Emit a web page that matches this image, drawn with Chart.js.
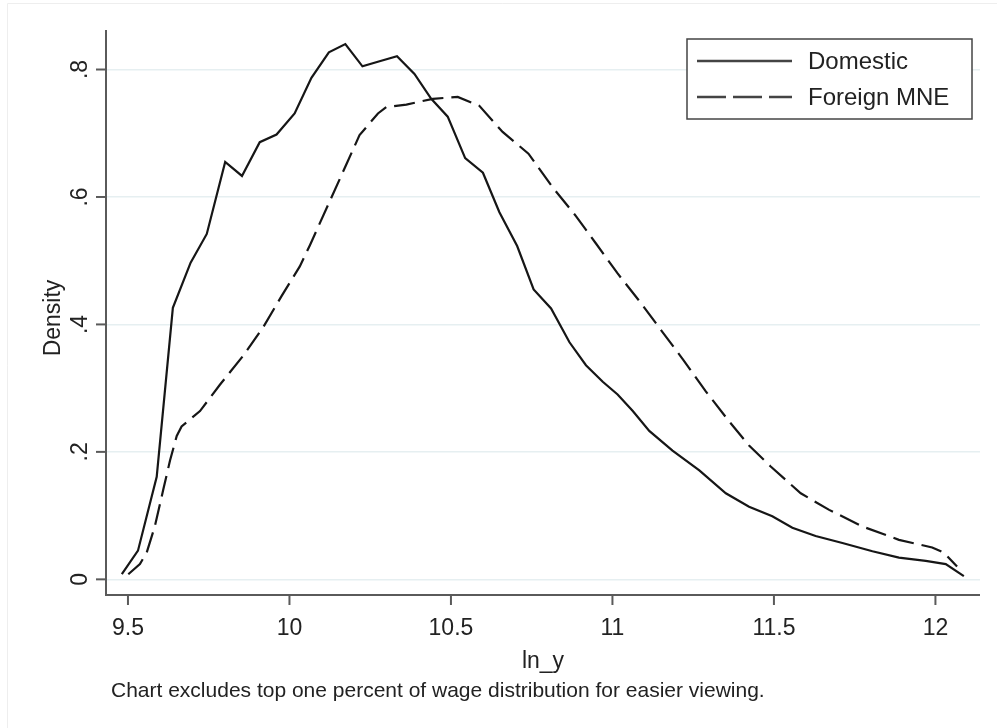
<!DOCTYPE html>
<html lang="en">
<head>
<meta charset="UTF-8">
<title>Kernel density of ln_y</title>
<script src="https://cdn.jsdelivr.net/npm/chart.js"></script>
<style>
  body { margin: 0; background: #fff; }
  canvas { display: block; }
</style>
</head>
<body>
<canvas id="densityChart" width="997" height="728"></canvas>
<script>
// values
const domX = [9.481, 9.531, 9.589, 9.639, 9.694, 9.744, 9.801, 9.853, 9.908, 9.960,
              10.016, 10.068, 10.122, 10.173, 10.226, 10.279, 10.333, 10.387, 10.439, 10.490,
              10.544, 10.599, 10.650, 10.705, 10.756, 10.810, 10.867, 10.918, 10.970, 11.016,
              11.063, 11.114, 11.186, 11.269, 11.351, 11.423, 11.495, 11.557, 11.629, 11.712,
              11.805, 11.887, 11.970, 12.032, 12.088];
const domY = [0.008, 0.045, 0.161, 0.426, 0.497, 0.542, 0.655, 0.633, 0.686, 0.698,
              0.731, 0.787, 0.827, 0.840, 0.805, 0.813, 0.821, 0.793, 0.754, 0.726,
              0.661, 0.638, 0.576, 0.523, 0.455, 0.425, 0.372, 0.336, 0.310, 0.290,
              0.264, 0.233, 0.202, 0.171, 0.135, 0.114, 0.099, 0.081, 0.068, 0.057,
              0.044, 0.034, 0.029, 0.024, 0.005];

const forX = [9.501, 9.537, 9.558, 9.583, 9.609, 9.630, 9.651, 9.666, 9.723, 9.784,
              9.857, 9.918, 9.975, 10.032, 10.063, 10.128, 10.176, 10.217, 10.274, 10.300,
              10.362, 10.444, 10.521, 10.588, 10.660, 10.740, 10.815, 10.887, 10.949, 11.016,
              11.083, 11.155, 11.217, 11.289, 11.361, 11.423, 11.490, 11.583, 11.671, 11.774,
              11.887, 11.990, 12.026, 12.067];
const forY = [0.008, 0.024, 0.042, 0.083, 0.140, 0.186, 0.225, 0.240, 0.264, 0.305,
              0.351, 0.395, 0.444, 0.491, 0.524, 0.597, 0.651, 0.697, 0.731, 0.741,
              0.745, 0.754, 0.757, 0.743, 0.702, 0.668, 0.615, 0.570, 0.527, 0.480,
              0.437, 0.388, 0.346, 0.295, 0.248, 0.210, 0.177, 0.135, 0.109, 0.083,
              0.062, 0.050, 0.042, 0.020];

const xTicks = [9.5, 10, 10.5, 11, 11.5, 12];
const xTickLabels = ["9.5", "10", "10.5", "11", "11.5", "12"];
const yTicks = [0, 0.2, 0.4, 0.6, 0.8];
const yTickLabels = ["0", ".2", ".4", ".6", ".8"];
const seriesNames = ["Domestic", "Foreign MNE"];
const xTitle = "ln_y";
const yTitle = "Density";
const note = "Chart excludes top one percent of wage distribution for easier viewing.";

const FONT = '"Liberation Sans", Arial, sans-serif';
const INK = "#161616";
const AXIS = "#5a5a5a";
const dash = [21, 8];

function pts(xs, ys) {
    return xs.map((x, i) => ({ x: x, y: ys[i] }));
}

// axes, ticks, titles, note and legend drawn by hand (Stata look)
const stataDecor = {
    id: "stataDecor",
    afterDraw(chart) {
        const ctx = chart.ctx;
        const a = chart.chartArea;
        const xs = chart.scales.x, ys = chart.scales.y;
        ctx.save();

        // faint outer frame
        ctx.strokeStyle = "#eeeeee";
        ctx.lineWidth = 1;
        ctx.beginPath();
        ctx.moveTo(7.5, 728); ctx.lineTo(7.5, 3.5); ctx.lineTo(997, 3.5);
        ctx.stroke();

        // axis lines
        ctx.strokeStyle = AXIS;
        ctx.lineWidth = 2;
        ctx.beginPath();
        ctx.moveTo(a.left, a.top); ctx.lineTo(a.left, a.bottom + 1);
        ctx.lineTo(a.right, a.bottom + 1);
        ctx.stroke();

        // x ticks + labels
        ctx.fillStyle = "#222";
        ctx.font = "23px " + FONT;
        ctx.textAlign = "center";
        ctx.textBaseline = "alphabetic";
        xTicks.forEach((v, i) => {
            const px = xs.getPixelForValue(v);
            ctx.beginPath();
            ctx.moveTo(px, a.bottom + 1); ctx.lineTo(px, a.bottom + 11);
            ctx.stroke();
            ctx.fillText(xTickLabels[i], px, a.bottom + 41);
        });

        // y ticks + rotated labels
        yTicks.forEach((v, i) => {
            const py = ys.getPixelForValue(v);
            ctx.beginPath();
            ctx.moveTo(a.left, py); ctx.lineTo(a.left - 10, py);
            ctx.stroke();
            ctx.save();
            ctx.translate(a.left - 19, py);
            ctx.rotate(-Math.PI / 2);
            ctx.textAlign = "center";
            ctx.fillText(yTickLabels[i], 0, 0);
            ctx.restore();
        });

        // axis titles
        ctx.font = "23px " + FONT;
        ctx.textAlign = "center";
        ctx.fillText(xTitle, (a.left + a.right) / 2, 668);
        ctx.save();
        ctx.translate(60, 318);
        ctx.rotate(-Math.PI / 2);
        ctx.fillText(yTitle, 0, 0);
        ctx.restore();

        // note
        ctx.font = "21px " + FONT;
        ctx.textAlign = "left";
        ctx.fillText(note, 111, 697);

        // legend
        ctx.fillStyle = "#fff";
        ctx.fillRect(687, 39, 285, 80);
        ctx.strokeStyle = "#444";
        ctx.lineWidth = 1.5;
        ctx.strokeRect(687, 39, 285, 80);
        const rows = [61, 97];
        ctx.font = "24px " + FONT;
        ctx.textBaseline = "middle";
        rows.forEach((y, i) => {
            ctx.strokeStyle = "#444";
            ctx.lineWidth = 2.5;
            ctx.setLineDash(i === 0 ? [] : [29, 7]);
            ctx.beginPath();
            ctx.moveTo(697, y); ctx.lineTo(792, y);
            ctx.stroke();
            ctx.setLineDash([]);
            ctx.fillStyle = "#222";
            ctx.fillText(seriesNames[i], 808, y + 1);
        });

        ctx.restore();
    }
};

new Chart(document.getElementById("densityChart"), {
    type: "scatter",
    data: {
        datasets: [
            {
                label: seriesNames[0],
                data: pts(domX, domY),
                showLine: true,
                borderColor: INK,
                borderWidth: 2.2,
                pointRadius: 0,
                tension: 0
            },
            {
                label: seriesNames[1],
                data: pts(forX, forY),
                showLine: true,
                borderColor: INK,
                borderWidth: 2.2,
                borderDash: dash,
                pointRadius: 0,
                tension: 0
            }
        ]
    },
    options: {
        responsive: false,
        animation: false,
        devicePixelRatio: 1,
        layout: { padding: { left: 106, right: 17, top: 30, bottom: 126 } },
        plugins: {
            legend: { display: false },
            tooltip: { enabled: false }
        },
        scales: {
            x: {
                type: "linear",
                min: 9.432,
                max: 12.138,
                ticks: { display: false },
                grid: { display: false },
                border: { display: false }
            },
            y: {
                type: "linear",
                min: -0.023,
                max: 0.862,
                afterBuildTicks: s => { s.ticks = yTicks.map(v => ({ value: v })); },
                ticks: { display: false },
                grid: { color: "#e6eff1", lineWidth: 1.5, drawTicks: false },
                border: { display: false }
            }
        }
    },
    plugins: [stataDecor]
});
</script>
</body>
</html>
